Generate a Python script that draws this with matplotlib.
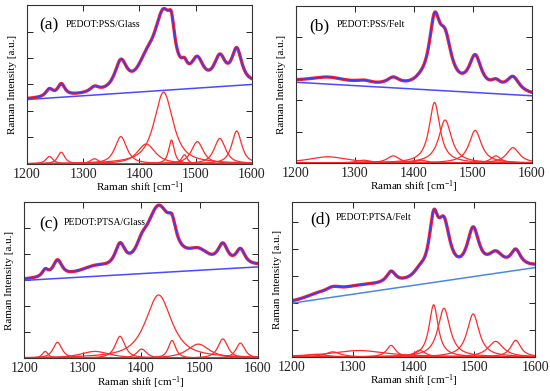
import numpy as np
import matplotlib
matplotlib.use("Agg")
import matplotlib.pyplot as plt

plt.rcParams['font.family'] = ['Liberation Serif', 'DejaVu Serif']
plt.rcParams['mathtext.default'] = 'regular'

# ---- data (y in tick units) ----
labels = ["(a)", "(b)", "(c)", "(d)"]
titles = ["PEDOT:PSS/Glass", "PEDOT:PSS/Felt", "PEDOT:PTSA/Glass", "PEDOT:PTSA/Felt"]
ylims = [6.0, 5.0, 6.0, 5.75]

# baseline values at 1200 and 1600 cm-1
baseline_a = [2.43, 3.0]
baseline_b = [2.57, 2.14]
baseline_c = [2.99, 3.51]
baseline_d = [2.0, 3.32]

# peak centres, heights, widths (FWHM)
centers_a = [1240, 1261, 1320, 1367, 1412, 1443, 1457, 1480, 1503, 1543, 1573]
heights_a = [0.28, 0.44, 0.19, 1.03, 0.75, 2.71, 0.90, 0.34, 0.84, 0.96, 1.24]
widths_a = [15, 15, 18, 25, 38, 40, 12, 12, 25, 24, 21]

centers_b = [1254, 1315, 1365, 1412, 1435, 1453, 1504, 1539, 1568]
heights_b = [0.20, 0.09, 0.23, 0.09, 1.93, 1.37, 1.04, 0.23, 0.49]
widths_b = [80, 30, 25, 25, 22, 26, 25, 20, 26]

centers_c = [1236, 1257, 1321, 1364, 1401, 1430, 1453, 1498, 1540, 1570]
heights_c = [0.26, 0.61, 0.26, 0.84, 0.35, 2.43, 0.68, 0.54, 0.74, 0.58]
widths_c = [12, 18, 60, 20, 20, 53, 15, 45, 20, 18]

centers_d = [1239, 1267, 1310, 1363, 1410, 1433, 1450, 1498, 1535, 1568]
heights_d = [0.10, 0.19, 0.24, 0.43, 0.25, 1.94, 1.81, 1.60, 0.58, 0.62]
widths_d = [40, 30, 110, 18, 22, 18, 24, 24, 30, 20]

# Lorentzian fraction of the pseudo-Voigt profile used for each panel
lorentz_frac = [0.8, 0.95, 0.8, 0.95]

xticks = [1200, 1300, 1400, 1500, 1600]

panels = [
    (baseline_a, centers_a, heights_a, widths_a),
    (baseline_b, centers_b, heights_b, widths_b),
    (baseline_c, centers_c, heights_c, widths_c),
    (baseline_d, centers_d, heights_d, widths_d),
]
positions = [
    [0.049, 0.581, 0.409, 0.406],
    [0.538, 0.583, 0.429, 0.402],
    [0.044, 0.084, 0.425, 0.399],
    [0.531, 0.087, 0.442, 0.396],
]
baseline_colors = ['#4a4aff', '#4a4aff', '#4a4aff', '#4a88e8']
label_pos = [(0.055, 0.87), (0.055, 0.87), (0.065, 0.86), (0.075, 0.89)]
title_x = [0.17, 0.174, 0.167, 0.18]


def pvoigt(x, c, h, w, eta):
    g = np.exp(-4 * np.log(2) * ((x - c) / w) ** 2)
    l = 1.0 / (1.0 + 4 * ((x - c) / w) ** 2)
    return h * (eta * l + (1 - eta) * g)


fig = plt.figure(figsize=(5.5, 3.91), dpi=100)
x = np.linspace(1200, 1600, 801)

for i, (bl, cs, hs, ws) in enumerate(panels):
    ax = fig.add_axes(positions[i])
    base = bl[0] + (bl[1] - bl[0]) * (x - 1200) / 400.0
    comps = [pvoigt(x, c, h, w, lorentz_frac[i]) for c, h, w in zip(cs, hs, ws)]
    fit = base + np.sum(comps, axis=0)
    for comp in comps:
        ax.plot(x, comp, color='#ff2a2a', lw=0.9)
    ax.plot(x, base, color=baseline_colors[i], lw=1.1)
    ax.plot(x, fit, color='#ff2020', lw=2.4)
    ax.plot(x, fit, color='#3a3aff', lw=1.1)
    ax.set_xlim(1200, 1600)
    ax.set_ylim(0, ylims[i])
    ax.set_xticks(xticks)
    ax.set_yticks(np.arange(0, ylims[i] + 0.01, 1.0))
    ax.set_yticklabels([])
    ax.tick_params(direction='in', top=True, right=True, length=4,
                   width=0.7, labelsize=10, pad=3, colors='#222222')
    for s in ax.spines.values():
        s.set_linewidth(0.8)
        s.set_color('#333333')
    ax.set_xlabel('Raman shift [cm$^{-1}$]', fontsize=8, labelpad=-1)
    ax.set_ylabel('Raman Intensity [a.u.]', fontsize=8, labelpad=4)
    ax.text(label_pos[i][0], label_pos[i][1], labels[i], transform=ax.transAxes,
            fontsize=12.5, va='center', ha='left')
    ax.text(title_x[i], label_pos[i][1] + 0.01, titles[i], transform=ax.transAxes,
            fontsize=7, va='center', ha='left')

fig.savefig('out.png', dpi=100)
